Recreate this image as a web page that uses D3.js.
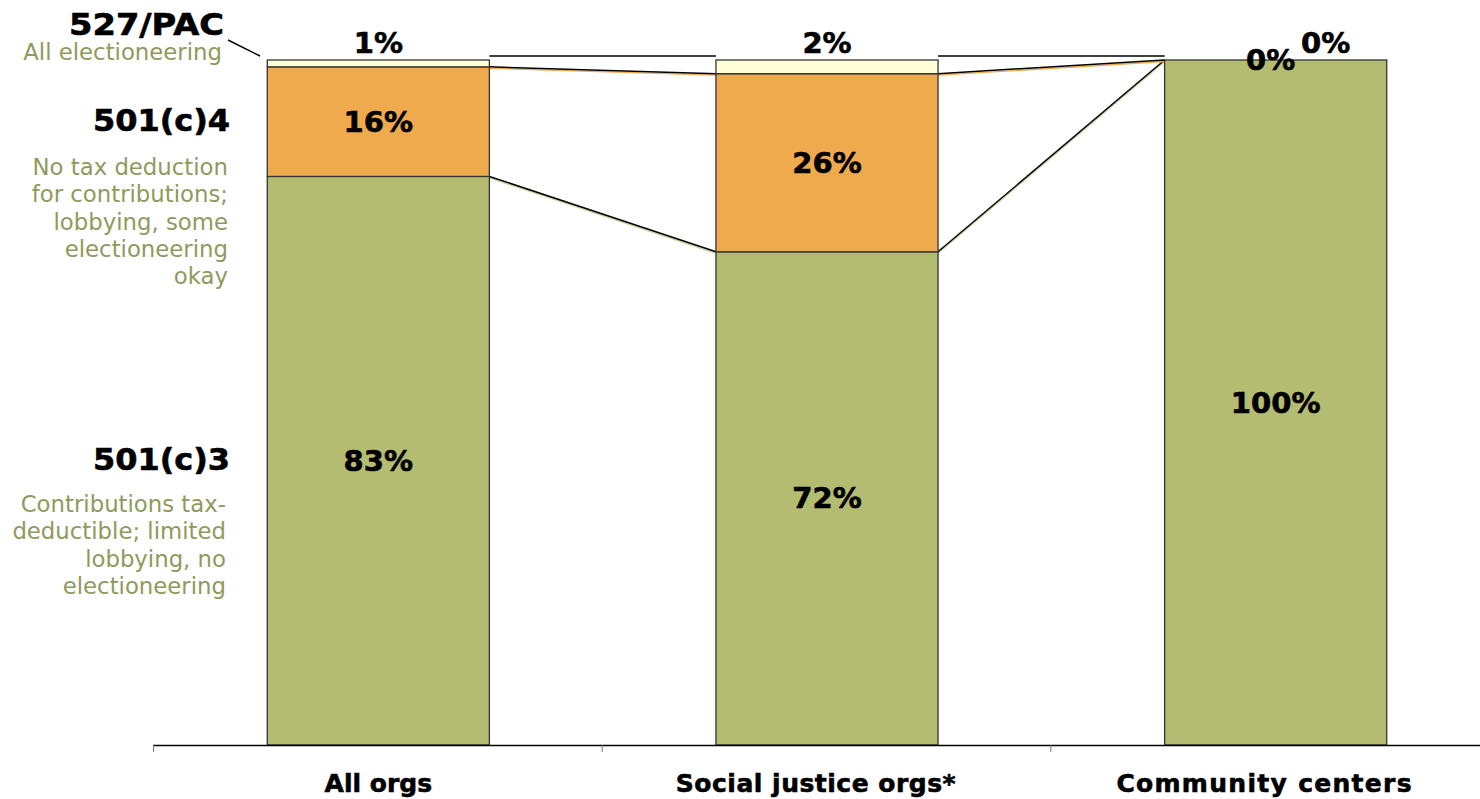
<!DOCTYPE html>
<html><head><meta charset="utf-8">
<script src="https://cdn.jsdelivr.net/npm/d3@7/dist/d3.min.js"></script>
<style>body{margin:0;background:#fff;}svg{display:block;font-family:"DejaVu Sans",Verdana,sans-serif;}</style>
</head><body><svg id="chart" width="1480" height="799"></svg>
<script>
const categories = ["All orgs", "Social justice orgs*", "Community centers"];
const seriesNames = ["501(c)3", "501(c)4", "527/PAC"];
const s501c3 = [83, 72, 100];
const s501c4 = [16, 26, 0];
const s527 = [1, 2, 0];
const legendTitles = ["501(c)3", "501(c)4", "527/PAC"];
const legendDescs = [
  ["Contributions tax-", "deductible; limited", "lobbying, no", "electioneering"],
  ["No tax deduction", "for contributions;", "lobbying, some", "electioneering", "okay"],
  ["All electioneering"]
];
const colors = ["#b4bc72", "#eeaa4d", "#ffffd6"];
const lineTint = ["#c8cf9a", "#eeaa4d", "#ffffd6"];
const textOlive = "#8f9a5c";

const svg = d3.select("#chart");
const x = d3.scaleBand().domain(categories).range([154, 1500]).paddingInner(0).paddingOuter(0);
const y = d3.scaleLinear().domain([0, 100]).range([745, 60]);
const barW = x.bandwidth() * 0.495;
const bx = c => x(c) + x.bandwidth() / 2 - barW / 2;

const rows = categories.map((c, i) => ({cat: c, "501(c)3": s501c3[i], "501(c)4": s501c4[i], "527/PAC": s527[i]}));
const stacked = d3.stack().keys(seriesNames)(rows);

// connector (series) lines
stacked.forEach((layer, si) => {
  for (let i = 0; i < categories.length - 1; i++) {
    const x1 = bx(categories[i]) + barW, x2 = bx(categories[i + 1]);
    const top = si === 2;
    const off = top ? -4 : 0;
    const y1 = y(layer[i][1]) + off, y2 = y(layer[i + 1][1]) + off;
    if (!top) {
      svg.append("line").attr("x1", x1).attr("y1", y1 + 1.5).attr("x2", x2).attr("y2", y2 + 1.5)
        .attr("stroke", lineTint[si]).attr("stroke-width", 1.3);
    }
    svg.append("line").attr("x1", x1).attr("y1", y1).attr("x2", x2).attr("y2", y2)
      .attr("stroke", "#000").attr("stroke-width", 1.5);
  }
});

// bars
stacked.forEach((layer, si) => {
  svg.append("g").selectAll("rect").data(layer).join("rect")
    .attr("x", d => bx(d.data.cat))
    .attr("y", d => y(d[1]))
    .attr("width", barW)
    .attr("height", d => y(d[0]) - y(d[1]))
    .attr("fill", colors[si])
    .attr("stroke", d => (d[1] - d[0]) > 0 ? "#333" : "none")
    .attr("stroke-width", 1.3);
});

const bold = sel => sel.attr("font-weight", "bold").attr("fill", "#000").attr("stroke", "#000").attr("stroke-width", 0.6);

// value labels
stacked.forEach((layer, si) => {
  layer.forEach((d, i) => {
    const v = d[1] - d[0];
    const cx = x(d.data.cat) + x.bandwidth() / 2;
    let tx = cx, ty;
    if (si === 2) {
      ty = y(100) - 7;
      if (v === 0) tx = cx + 50;
    } else if (v === 0) {
      ty = y(100) + 10; tx = cx - 5;
    } else {
      ty = (y(d[0]) + y(d[1])) / 2 + 10;
    }
    svg.append("text").attr("x", tx).attr("y", ty).attr("text-anchor", "middle")
      .attr("font-size", 29).call(bold).text(v + "%");
  });
});

// axis
const labelNudge = [0, -11, -11];
const labelSpacing = [0, 0.5, 1.3];
svg.append("line").attr("x1", 153).attr("x2", 1480).attr("y1", 745.5).attr("y2", 745.5).attr("stroke", "#000").attr("stroke-width", 1.3);
categories.forEach((c, i) => {
  svg.append("line").attr("x1", x(c) - 0.5).attr("x2", x(c) - 0.5).attr("y1", 745).attr("y2", 752).attr("stroke", "#777").attr("stroke-width", 1);
  svg.append("text").attr("x", x(c) + x.bandwidth() / 2 + labelNudge[i]).attr("y", 792).attr("text-anchor", "middle")
    .attr("font-size", 25).attr("letter-spacing", labelSpacing[i]).call(bold).text(c);
});

// left legend annotations
const titleY = [470, 131, 35];
const titleX = [230, 230, 224];
const titleW = [137, 137, 155];
const descY = [512, 175, 60];
const descX = [226, 228, 222];
legendTitles.forEach((t, i) => {
  svg.append("text").attr("x", titleX[i]).attr("y", titleY[i]).attr("text-anchor", "end")
    .attr("font-size", 30).call(bold)
    .attr("textLength", titleW[i]).attr("lengthAdjust", "spacingAndGlyphs").text(t);
  legendDescs[i].forEach((ln, j) => {
    svg.append("text").attr("x", descX[i]).attr("y", descY[i] + j * 27.3).attr("text-anchor", "end")
      .attr("font-size", 22.8).attr("fill", textOlive).text(ln);
  });
});
svg.append("line").attr("x1", 228).attr("y1", 40).attr("x2", 260).attr("y2", 56).attr("stroke", "#000").attr("stroke-width", 1.5);
</script></body></html>
